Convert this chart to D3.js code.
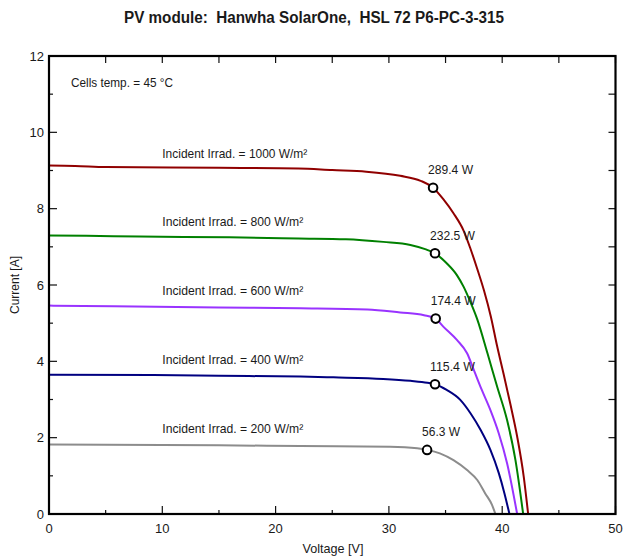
<!DOCTYPE html>
<html><head><meta charset="utf-8">
<script src="https://cdn.jsdelivr.net/npm/d3@7"></script>
<style>
html,body{margin:0;padding:0;background:#fff;}
svg{display:block;}
text{font-family:"Liberation Sans Narrow","Arial Narrow","Liberation Sans",Arial,sans-serif;fill:#1a1a1a;}
</style></head>
<body>
<svg id="chart" width="624" height="558"></svg>
<script>
const title = "PV module:  Hanwha SolarOne,  HSL 72 P6-PC-3-315";
const tempLabel = "Cells temp. = 45 °C";
const xLabel = "Voltage [V]";
const yLabel = "Current [A]";
const xTicks = [0, 10, 20, 30, 40, 50];
const yTicks = [0, 2, 4, 6, 8, 10, 12];

const irradLabels = ["Incident Irrad. = 1000 W/m²", "Incident Irrad. = 800 W/m²", "Incident Irrad. = 600 W/m²", "Incident Irrad. = 400 W/m²", "Incident Irrad. = 200 W/m²"];
const seriesColors = ["#900000", "#008000", "#9933ff", "#000080", "#8c8c8c"];

// I-V curves: [voltage V, current A]
const iv1000 = [[0,9.13],[2.3,9.12],[5,9.09],[15,9.07],[22,9.05],[25,9.01],[28,8.97],[31,8.86],[32.8,8.73],[33.9,8.55],[34.8,8.25],[35.7,7.88],[36.6,7.42],[37.2,6.95],[37.8,6.42],[38.4,5.85],[39.0,5.17],[39.55,4.40],[40.13,3.66],[40.72,2.88],[41.32,2.03],[41.9,0.98],[42.29,0]];
const iv800 = [[0,7.30],[3.3,7.29],[8,7.27],[15.9,7.25],[22,7.22],[26.2,7.20],[29.5,7.13],[31.9,7.05],[33.2,6.94],[34.07,6.83],[35.1,6.57],[36.0,6.26],[36.6,5.95],[37.2,5.55],[37.8,5.10],[38.7,4.21],[39.55,3.34],[40.43,2.46],[41.17,1.41],[41.85,0]];
const iv600 = [[0,5.46],[5.7,5.44],[15,5.41],[22.2,5.39],[28.1,5.36],[31,5.28],[33.1,5.21],[34.13,5.12],[34.8,4.91],[36.0,4.56],[36.9,4.21],[37.5,3.77],[38.2,3.25],[38.96,2.72],[39.7,2.11],[40.43,1.33],[41.32,0]];
const iv400 = [[0,3.65],[9.2,3.64],[15,3.62],[22.2,3.60],[25.1,3.58],[29.5,3.54],[31.9,3.49],[33.4,3.44],[34.07,3.40],[35.1,3.25],[36.3,2.99],[37.2,2.64],[38.1,2.20],[38.96,1.68],[39.7,1.07],[40.2,0.54],[40.64,0]];
const iv200 = [[0,1.82],[15,1.80],[22.2,1.78],[30.1,1.76],[32.5,1.72],[33.37,1.68],[34.5,1.59],[35.7,1.41],[36.9,1.15],[37.8,0.89],[38.5,0.54],[39.1,0.24],[39.4,0]];
const curves = [iv1000, iv800, iv600, iv400, iv200];

// Maximum power points: [V, I]
const mppPoints = [[33.9,8.55],[34.07,6.83],[34.13,5.12],[34.07,3.40],[33.37,1.68]];
const mppLabels = ["289.4 W", "232.5 W", "174.4 W", "115.4 W", "56.3 W"];
// label anchor positions (V, I) for the irradiance labels
const irradLabelPos = [[10,9.33],[10,7.55],[10,5.74],[10,3.93],[10,2.12]];

const svg = d3.select("#chart");
const L = 49, R = 615.5, T = 56, B = 514;
const x = d3.scaleLinear().domain([0, 50]).range([L, R]);
const y = d3.scaleLinear().domain([0, 12]).range([B, T]);

// title
svg.append("text").attr("x", 314).attr("y", 23).attr("text-anchor", "middle").style("white-space", "pre")
  .attr("font-size", 16).attr("font-weight", "bold").attr("textLength", 380).attr("lengthAdjust","spacingAndGlyphs").text(title);

// axes with inward ticks
const tickMinorX = d3.range(0, 51, 5).filter(v => v % 10 !== 0);
const tickMinorY = d3.range(0, 13, 1).filter(v => v % 2 !== 0);

function drawTicks(g, vals, len, orient) {
  vals.forEach(v => {
    if (orient === "bottom") g.append("line").attr("x1", x(v)).attr("x2", x(v)).attr("y1", B).attr("y2", B - len);
    if (orient === "top") g.append("line").attr("x1", x(v)).attr("x2", x(v)).attr("y1", T).attr("y2", T + len);
    if (orient === "left") g.append("line").attr("y1", y(v)).attr("y2", y(v)).attr("x1", L).attr("x2", L + len);
    if (orient === "right") g.append("line").attr("y1", y(v)).attr("y2", y(v)).attr("x1", R).attr("x2", R - len);
  });
}
const tg = svg.append("g").attr("stroke", "#111").attr("stroke-width", 1.2);
drawTicks(tg, xTicks, 8, "bottom"); drawTicks(tg, tickMinorX, 4, "bottom");
drawTicks(tg, xTicks, 7, "top"); drawTicks(tg, tickMinorX, 7, "top");
drawTicks(tg, yTicks, 8, "left"); drawTicks(tg, tickMinorY, 4, "left");
drawTicks(tg, yTicks, 7, "right"); drawTicks(tg, tickMinorY, 7, "right");

// tick labels
svg.append("g").selectAll("text").data(xTicks).join("text")
  .attr("x", d => x(d)).attr("y", 533).attr("text-anchor", "middle").attr("font-size", 13).text(d => d);
svg.append("g").selectAll("text").data(yTicks).join("text")
  .attr("x", 44).attr("y", d => y(d) + 4.5).attr("text-anchor", "end").attr("font-size", 13).text(d => d);

// axis titles
svg.append("text").attr("x", 333).attr("y", 553).attr("text-anchor", "middle").attr("font-size", 13)
  .attr("textLength", 61).attr("lengthAdjust","spacingAndGlyphs").text(xLabel);
svg.append("text").attr("transform", "translate(19,285) rotate(-90)").attr("text-anchor", "middle").attr("font-size", 12)
  .attr("textLength", 58).attr("lengthAdjust","spacingAndGlyphs").text(yLabel);

// temp label
svg.append("text").attr("x", 71).attr("y", 87).attr("font-size", 13)
  .attr("textLength", 102).attr("lengthAdjust","spacingAndGlyphs").text(tempLabel);

// curves
const line = d3.line().curve(d3.curveMonotoneX).x(d => x(d[0])).y(d => y(d[1]));
svg.append("g").selectAll("path").data(curves).join("path")
  .attr("d", line).attr("fill", "none").attr("stroke", (d, i) => seriesColors[i]).attr("stroke-width", 2);

// irradiance labels
svg.append("g").selectAll("text").data(irradLabels).join("text")
  .attr("x", (d, i) => x(irradLabelPos[i][0]) + 0).attr("y", (d, i) => y(irradLabelPos[i][1]))
  .attr("font-size", 13).attr("textLength", (d, i) => i === 0 ? 145 : 141).attr("lengthAdjust","spacingAndGlyphs").text(d => d);

// MPP markers
svg.append("g").selectAll("circle").data(mppPoints).join("circle")
  .attr("cx", d => x(d[0])).attr("cy", d => y(d[1])).attr("r", 4.3)
  .attr("fill", "#fff").attr("stroke", "#000").attr("stroke-width", 2);
svg.append("g").selectAll("text").data(mppPoints).join("text")
  .attr("x", d => x(d[0]) - 5).attr("y", d => y(d[1]) - 13.5)
  .attr("font-size", 13).attr("fill", "#333")
  .attr("textLength", (d, i) => i === 4 ? 38 : 45).attr("lengthAdjust","spacingAndGlyphs").text((d, i) => mppLabels[i]);

// frame
svg.append("rect").attr("x", L).attr("y", T).attr("width", R - L).attr("height", B - T)
  .attr("fill", "none").attr("stroke", "#000").attr("stroke-width", 2.2);
</script>
</body></html>
